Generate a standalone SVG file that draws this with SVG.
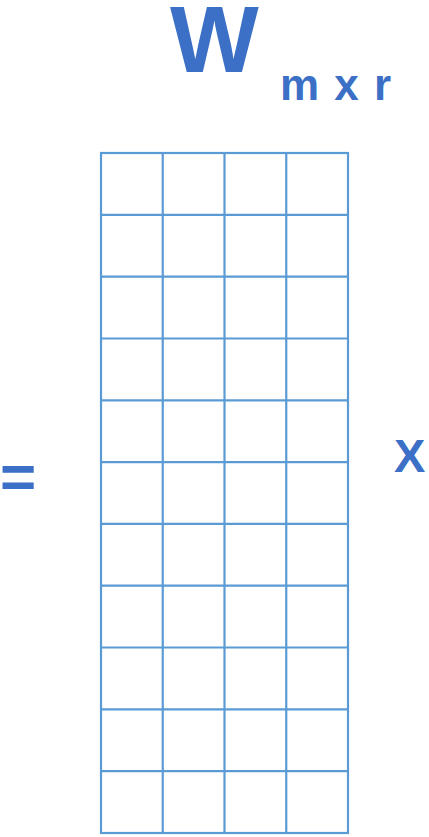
<svg xmlns="http://www.w3.org/2000/svg" width="429" height="837" viewBox="0 0 429 837">
<style>
.t{font-family:"Liberation Sans",Arial,sans-serif;font-weight:bold;fill:#3b70c6}
.g{stroke:#5b9bd5;stroke-width:2.2;fill:none}
</style>
<rect width="429" height="837" fill="#ffffff"/>
<g id="title">
<text class="t" x="170" y="72" font-size="94">W</text>
<text class="t" x="280" y="100" font-size="44" letter-spacing="1.5">m x r</text>
</g>
<g id="equals"><text class="t" x="0" y="498" font-size="62">=</text></g>
<g id="times"><text class="t" x="394" y="472" font-size="47">X</text></g>
<g id="matrix" class="g">
<rect x="101" y="153" width="247" height="680"/>
<path d="M162.75 153V833M224.5 153V833M286.25 153V833"/>
<path d="M101 214.8H348M101 276.6H348M101 338.5H348M101 400.3H348M101 462.1H348M101 523.9H348M101 585.7H348M101 647.5H348M101 709.4H348M101 771.2H348"/>
</g>
</svg>
